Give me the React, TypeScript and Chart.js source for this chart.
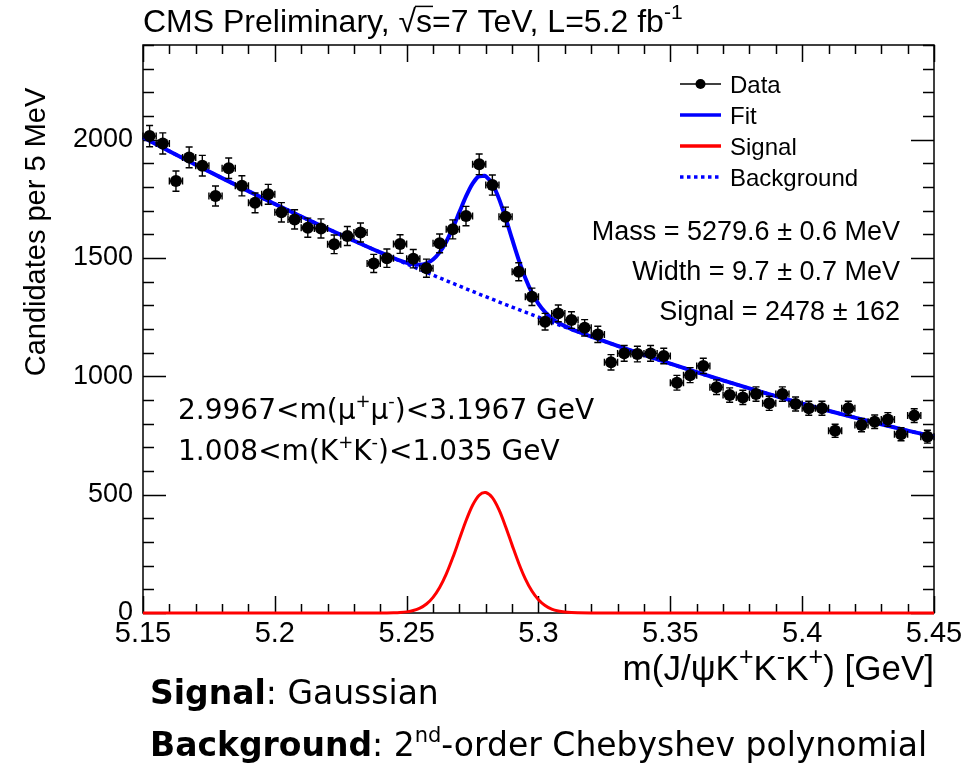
import { useEffect, useRef } from "react";
import { Chart, registerables } from "chart.js";

Chart.register(...registerables);

// ---------- histogram: B candidates per 5 MeV bin ----------
const MASS = [
  5.1525, 5.1575, 5.1625, 5.1675, 5.1725, 5.1775, 5.1825, 5.1875, 5.1925, 5.1975,
  5.2025, 5.2075, 5.2125, 5.2175, 5.2225, 5.2275, 5.2325, 5.2375, 5.2425, 5.2475,
  5.2525, 5.2575, 5.2625, 5.2675, 5.2725, 5.2775, 5.2825, 5.2875, 5.2925, 5.2975,
  5.3025, 5.3075, 5.3125, 5.3175, 5.3225, 5.3275, 5.3325, 5.3375, 5.3425, 5.3475,
  5.3525, 5.3575, 5.3625, 5.3675, 5.3725, 5.3775, 5.3825, 5.3875, 5.3925, 5.3975,
  5.4025, 5.4075, 5.4125, 5.4175, 5.4225, 5.4275, 5.4325, 5.4375, 5.4425, 5.4475,
];
const COUNTS = [
  2015, 1984, 1825, 1925, 1890, 1762, 1879, 1805, 1733, 1769,
  1693, 1663, 1628, 1625, 1558, 1593, 1608, 1477, 1499, 1559,
  1497, 1457, 1562, 1621, 1677, 1896, 1808, 1674, 1442, 1336,
  1231, 1266, 1238, 1205, 1177, 1059, 1097, 1094, 1097, 1086,
  973, 1005, 1044, 954, 921, 911, 925, 886, 925, 883,
  865, 865, 770, 865, 794, 808, 818, 755, 834, 745,
];
const BIN_HALF_WIDTH = 0.0025;

// ---------- fit components ----------
const FIT_MASS = [
  5.15, 5.16, 5.17, 5.18, 5.19, 5.2, 5.21, 5.22, 5.23, 5.24,
  5.245, 5.2475, 5.25, 5.2525, 5.255, 5.2575, 5.26, 5.2625, 5.265, 5.2675,
  5.27, 5.2725, 5.275, 5.2775, 5.2796, 5.28, 5.2825, 5.285, 5.2875, 5.29,
  5.2925, 5.295, 5.2975, 5.3, 5.3025, 5.305, 5.3075, 5.31, 5.3125, 5.315,
  5.32, 5.33, 5.34, 5.35, 5.36, 5.37, 5.38, 5.39, 5.4, 5.41,
  5.42, 5.43, 5.44, 5.45,
];
const FIT_VALUES = [
  2010, 1951.4, 1893.9, 1837.6, 1782.4, 1728.3, 1675.4, 1623.6, 1572.9, 1523.5,
  1500.0, 1489.1, 1479.8, 1473.4, 1471.6, 1477.4, 1493.9, 1523.8, 1568.6, 1627.1,
  1693.8, 1760.2, 1814.4, 1845.5, 1848.0, 1845.8, 1812.8, 1750.9, 1669.4, 1579.5,
  1492.4, 1415.7, 1353.4, 1305.8, 1270.9, 1245.6, 1226.9, 1212.2, 1199.8, 1188.7,
  1168.0, 1128.6, 1090.4, 1053.3, 1017.4, 982.6, 948.9, 916.4, 885.0, 854.7,
  825.6, 797.6, 770.7, 745,
];

const SIGNAL_MASS = [
  5.15, 5.24, 5.245, 5.2475, 5.25, 5.2525, 5.255, 5.2575, 5.26, 5.2625,
  5.265, 5.2675, 5.27, 5.2725, 5.275, 5.2775, 5.2796, 5.28, 5.2825, 5.285,
  5.2875, 5.29, 5.2925, 5.295, 5.2975, 5.3, 5.3025, 5.305, 5.3075, 5.31,
  5.3125, 5.315, 5.32, 5.45,
];
const SIGNAL_VALUES = [
  0, 0.1, 0.9, 2.1, 4.8, 10.3, 20.4, 38.0, 66.2, 107.7,
  164.1, 234.1, 312.2, 389.9, 455.4, 497.8, 509.6, 509.2, 487.3, 436.4,
  365.8, 286.8, 210.5, 144.5, 92.8, 55.8, 31.4, 16.5, 8.2, 3.8,
  1.6, 0.7, 0.1, 0,
];

const BKG_MASS = [
  5.15, 5.16, 5.17, 5.18, 5.19, 5.2, 5.21, 5.22, 5.23, 5.24,
  5.25, 5.26, 5.27, 5.28, 5.29, 5.3, 5.31, 5.32, 5.33, 5.34,
  5.35, 5.36, 5.37, 5.38, 5.39, 5.4, 5.41, 5.42, 5.43, 5.44, 5.45,
];
const BKG_VALUES = [
  2010, 1951.4, 1893.9, 1837.6, 1782.4, 1728.3, 1675.4, 1623.6, 1572.9, 1523.4,
  1475.0, 1427.7, 1381.6, 1336.6, 1292.7, 1250.0, 1208.4, 1167.9, 1128.6, 1090.4,
  1053.3, 1017.4, 982.6, 948.9, 916.4, 885.0, 854.7, 825.6, 797.6, 770.7, 745,
];

// ---------- axes ----------
const X_MIN = 5.15;
const X_MAX = 5.45;
const Y_MIN = 0;
const Y_MAX = 2400;
const X_MAJOR_TICKS = [5.15, 5.2, 5.25, 5.3, 5.35, 5.4, 5.45];
const X_TICK_LABELS = ["5.15", "5.2", "5.25", "5.3", "5.35", "5.4", "5.45"];
const X_MINOR_DIVISIONS = 5;
const Y_MAJOR_TICKS = [0, 500, 1000, 1500, 2000];
const Y_TICK_LABELS = ["0", "500", "1000", "1500", "2000"];
const Y_MINOR_STEP = 100;

const LEGEND_LABELS = ["Data", "Fit", "Signal", "Background"];
const FIT_RESULTS = [
  "Mass = 5279.6 ± 0.6 MeV",
  "Width = 9.7 ± 0.7 MeV",
  "Signal = 2478 ± 162",
];

const ROOT_FONT = '"Liberation Sans", Arial, sans-serif';
const NOTE_FONT = '"DejaVu Sans", Verdana, sans-serif';
const BLUE = "#0000ff";
const RED = "#ff0000";

function majorIndex(list: number[], v: number) {
  return list.findIndex((m) => Math.abs(m - v) < 1e-6);
}

function xTickValues() {
  const out: number[] = [];
  for (let i = 0; i < X_MAJOR_TICKS.length; i++) {
    out.push(X_MAJOR_TICKS[i]);
    if (i < X_MAJOR_TICKS.length - 1) {
      const a = X_MAJOR_TICKS[i];
      const b = X_MAJOR_TICKS[i + 1];
      for (let k = 1; k < X_MINOR_DIVISIONS; k++) {
        out.push(+(a + ((b - a) * k) / X_MINOR_DIVISIONS).toFixed(4));
      }
    }
  }
  return out;
}

function yTickValues() {
  const out: number[] = [];
  for (let v = Y_MIN; v <= Y_MAX; v += Y_MINOR_STEP) out.push(v);
  return out;
}

type Seg = { t: string; sup?: boolean; bold?: boolean; over?: boolean };

function drawRich(
  ctx: CanvasRenderingContext2D,
  segs: Seg[],
  x: number,
  baseline: number,
  size: number,
  family: string,
  align: "left" | "right" | "center",
  supScale = 0.65
) {
  const font = (s: Seg) =>
    `${s.bold ? "bold " : ""}${s.sup ? Math.round(size * supScale) : size}px ${family}`;
  const widths = segs.map((s) => {
    ctx.font = font(s);
    return ctx.measureText(s.t).width;
  });
  const total = widths.reduce((a, b) => a + b, 0);
  let cx = align === "right" ? x - total : align === "center" ? x - total / 2 : x;
  ctx.textAlign = "left";
  ctx.textBaseline = "alphabetic";
  segs.forEach((s, i) => {
    ctx.font = font(s);
    ctx.fillText(s.t, cx, s.sup ? baseline - size * 0.42 : baseline);
    if (s.over) {
      ctx.beginPath();
      ctx.lineWidth = 1.5;
      const yy = baseline - size * 0.8;
      ctx.moveTo(cx - 1, yy);
      ctx.lineTo(cx + widths[i] + 1, yy);
      ctx.stroke();
    }
    cx += widths[i];
  });
}

// Frame with inward ticks on all four sides
const framePlugin = {
  id: "rootFrame",
  beforeDatasetsDraw(chart: any) {
    const { ctx, chartArea } = chart;
    const { left, right, top, bottom } = chartArea;
    const xs = chart.scales.x;
    const ys = chart.scales.y;
    ctx.save();
    ctx.strokeStyle = "#000";
    ctx.lineWidth = 1.5;
    ctx.strokeRect(left, top, right - left, bottom - top);
    ctx.beginPath();
    xs.ticks.forEach((t: any) => {
      const px = Math.round(xs.getPixelForValue(t.value)) + 0.5;
      const len = majorIndex(X_MAJOR_TICKS, t.value) >= 0 ? 17 : 9;
      ctx.moveTo(px, bottom);
      ctx.lineTo(px, bottom - len);
      ctx.moveTo(px, top);
      ctx.lineTo(px, top + len);
    });
    ys.ticks.forEach((t: any) => {
      const py = Math.round(ys.getPixelForValue(t.value)) + 0.5;
      const len = majorIndex(Y_MAJOR_TICKS, t.value) >= 0 ? 23 : 11;
      ctx.moveTo(left, py);
      ctx.lineTo(left + len, py);
      ctx.moveTo(right, py);
      ctx.lineTo(right - len, py);
    });
    ctx.stroke();
    ctx.restore();
  },
};

// Poisson error bars with end caps, drawn just under the data markers
const errorBarPlugin = {
  id: "errorBars",
  beforeDatasetDraw(chart: any, args: any) {
    if (args.index !== 0) return;
    const { ctx } = chart;
    const xs = chart.scales.x;
    const ys = chart.scales.y;
    const cap = 3.5;
    ctx.save();
    ctx.strokeStyle = "#000";
    ctx.lineWidth = 1.4;
    ctx.beginPath();
    MASS.forEach((m, i) => {
      const n = COUNTS[i];
      const err = Math.sqrt(n);
      const px = xs.getPixelForValue(m);
      const py = ys.getPixelForValue(n);
      const yHi = ys.getPixelForValue(n + err);
      const yLo = ys.getPixelForValue(n - err);
      const xL = xs.getPixelForValue(m - BIN_HALF_WIDTH);
      const xR = xs.getPixelForValue(m + BIN_HALF_WIDTH);
      ctx.moveTo(px, yHi);
      ctx.lineTo(px, yLo);
      ctx.moveTo(px - cap, yHi);
      ctx.lineTo(px + cap, yHi);
      ctx.moveTo(px - cap, yLo);
      ctx.lineTo(px + cap, yLo);
      ctx.moveTo(xL, py);
      ctx.lineTo(xR, py);
      ctx.moveTo(xL, py - cap);
      ctx.lineTo(xL, py + cap);
      ctx.moveTo(xR, py - cap);
      ctx.lineTo(xR, py + cap);
    });
    ctx.stroke();
    ctx.restore();
  },
};

// Titles, legend, fit results and notes
const labelsPlugin = {
  id: "labels",
  afterDraw(chart: any) {
    const { ctx, chartArea } = chart;
    ctx.save();
    ctx.fillStyle = "#000";
    ctx.strokeStyle = "#000";

    // plot title
    drawRich(
      ctx,
      [
        { t: "CMS Preliminary, " },
        { t: "√" },
        { t: "s", over: true },
        { t: "=7 TeV, L=5.2 fb" },
        { t: "-1", sup: true },
      ],
      chartArea.left,
      32,
      32,
      ROOT_FONT,
      "left"
    );

    // y axis title
    ctx.save();
    ctx.translate(35, 232);
    ctx.rotate(-Math.PI / 2);
    drawRich(ctx, [{ t: "Candidates per 5 MeV" }], 0, 10, 29, ROOT_FONT, "center");
    ctx.restore();

    // x axis title
    drawRich(
      ctx,
      [
        { t: "m(J/ψK" },
        { t: "+", sup: true },
        { t: "K" },
        { t: "-", sup: true },
        { t: "K" },
        { t: "+", sup: true },
        { t: ") [GeV]" },
      ],
      chartArea.right,
      680,
      35,
      ROOT_FONT,
      "right",
      0.7
    );

    // legend
    const legX0 = 680;
    const legX1 = 721;
    const legText = 730;
    const legY = [84, 115, 146, 177];
    ctx.lineCap = "butt";
    // Data
    ctx.lineWidth = 1.5;
    ctx.strokeStyle = "#000";
    ctx.beginPath();
    ctx.moveTo(legX0, legY[0]);
    ctx.lineTo(legX1, legY[0]);
    ctx.stroke();
    ctx.beginPath();
    ctx.arc((legX0 + legX1) / 2, legY[0], 5, 0, Math.PI * 2);
    ctx.fill();
    // Fit
    ctx.lineWidth = 3.5;
    ctx.strokeStyle = BLUE;
    ctx.beginPath();
    ctx.moveTo(legX0, legY[1]);
    ctx.lineTo(legX1, legY[1]);
    ctx.stroke();
    // Signal
    ctx.strokeStyle = RED;
    ctx.beginPath();
    ctx.moveTo(legX0, legY[2]);
    ctx.lineTo(legX1, legY[2]);
    ctx.stroke();
    // Background
    ctx.strokeStyle = BLUE;
    ctx.lineWidth = 3.5;
    ctx.setLineDash([3.5, 3.5]);
    ctx.beginPath();
    ctx.moveTo(legX0, legY[3]);
    ctx.lineTo(legX1, legY[3]);
    ctx.stroke();
    ctx.setLineDash([]);
    ctx.fillStyle = "#000";
    LEGEND_LABELS.forEach((lab, i) => {
      drawRich(ctx, [{ t: lab }], legText, legY[i] + 8.5, 24, ROOT_FONT, "left");
    });

    // fit results
    const resY = [240, 280, 320];
    FIT_RESULTS.forEach((txt, i) => {
      drawRich(ctx, [{ t: txt }], 900, resY[i], 27, ROOT_FONT, "right");
    });

    // selection cuts
    drawRich(
      ctx,
      [
        { t: "2.9967<m(μ" },
        { t: "+", sup: true },
        { t: "μ" },
        { t: "-", sup: true },
        { t: ")<3.1967 GeV" },
      ],
      178,
      419,
      28,
      NOTE_FONT,
      "left"
    );
    drawRich(
      ctx,
      [
        { t: "1.008<m(K" },
        { t: "+", sup: true },
        { t: "K" },
        { t: "-", sup: true },
        { t: ")<1.035 GeV" },
      ],
      178,
      460,
      28,
      NOTE_FONT,
      "left"
    );

    // model description
    drawRich(
      ctx,
      [{ t: "Signal", bold: true }, { t: ": Gaussian" }],
      150,
      704,
      33,
      NOTE_FONT,
      "left"
    );
    drawRich(
      ctx,
      [
        { t: "Background", bold: true },
        { t: ": 2" },
        { t: "nd", sup: true },
        { t: "-order Chebyshev polynomial" },
      ],
      150,
      756,
      33,
      NOTE_FONT,
      "left"
    );
    ctx.restore();
  },
};

export default function App() {
  const canvasRef = useRef<HTMLCanvasElement | null>(null);

  useEffect(() => {
    const canvas = canvasRef.current;
    if (!canvas) return;
    const toXY = (xs: number[], ys: number[]) => xs.map((x, i) => ({ x, y: ys[i] }));

    const chart = new Chart(canvas, {
      type: "line",
      data: {
        datasets: [
          {
            label: "Data",
            data: toXY(MASS, COUNTS),
            showLine: false,
            pointRadius: 6,
            pointHoverRadius: 6,
            pointBackgroundColor: "#000",
            pointBorderWidth: 0,
            borderColor: "#000",
            order: 0,
          },
          {
            label: "Fit",
            data: toXY(FIT_MASS, FIT_VALUES),
            borderColor: BLUE,
            borderWidth: 4,
            pointRadius: 0,
            cubicInterpolationMode: "monotone",
            fill: false,
            clip: false,
            order: 1,
          },
          {
            label: "Signal",
            data: toXY(SIGNAL_MASS, SIGNAL_VALUES),
            borderColor: RED,
            borderWidth: 3,
            pointRadius: 0,
            cubicInterpolationMode: "monotone",
            fill: false,
            clip: false,
            order: 2,
          },
          {
            label: "Background",
            data: toXY(BKG_MASS, BKG_VALUES),
            borderColor: BLUE,
            borderWidth: 3.5,
            borderDash: [3.5, 3.5],
            pointRadius: 0,
            cubicInterpolationMode: "monotone",
            fill: false,
            clip: false,
            order: 3,
          },
        ],
      } as any,
      options: {
        responsive: false,
        animation: false,
        events: [],
        layout: { padding: { left: 0, top: 45, right: 37, bottom: 0 } },
        plugins: {
          legend: { display: false },
          tooltip: { enabled: false },
          title: { display: false },
        },
        scales: {
          x: {
            type: "linear",
            min: X_MIN,
            max: X_MAX,
            afterBuildTicks: (s: any) => {
              s.ticks = xTickValues().map((value) => ({ value }));
            },
            afterFit: (s: any) => {
              s.height = 154;
            },
            grid: { display: false, drawTicks: false },
            border: { display: false },
            ticks: {
              autoSkip: false,
              maxRotation: 0,
              minRotation: 0,
              padding: 4,
              color: "#000",
              font: { family: ROOT_FONT, size: 29 },
              callback: (v: any) => {
                const i = majorIndex(X_MAJOR_TICKS, Number(v));
                return i >= 0 ? X_TICK_LABELS[i] : "";
              },
            },
          },
          y: {
            type: "linear",
            min: Y_MIN,
            max: Y_MAX,
            afterBuildTicks: (s: any) => {
              s.ticks = yTickValues().map((value) => ({ value }));
            },
            afterFit: (s: any) => {
              s.width = 143;
            },
            grid: { display: false, drawTicks: false },
            border: { display: false },
            ticks: {
              autoSkip: false,
              padding: 10,
              color: "#000",
              font: { family: ROOT_FONT, size: 27 },
              callback: (v: any) => {
                const i = majorIndex(Y_MAJOR_TICKS, Number(v));
                return i >= 0 ? Y_TICK_LABELS[i] : "";
              },
            },
          },
        },
      } as any,
      plugins: [framePlugin, errorBarPlugin, labelsPlugin],
    });

    return () => chart.destroy();
  }, []);

  return (
    <div
      style={{
        position: "absolute",
        left: 0,
        top: 0,
        width: 971,
        height: 767,
        background: "#fff",
      }}
    >
      <canvas ref={canvasRef} width={971} height={767} style={{ display: "block" }} />
    </div>
  );
}
